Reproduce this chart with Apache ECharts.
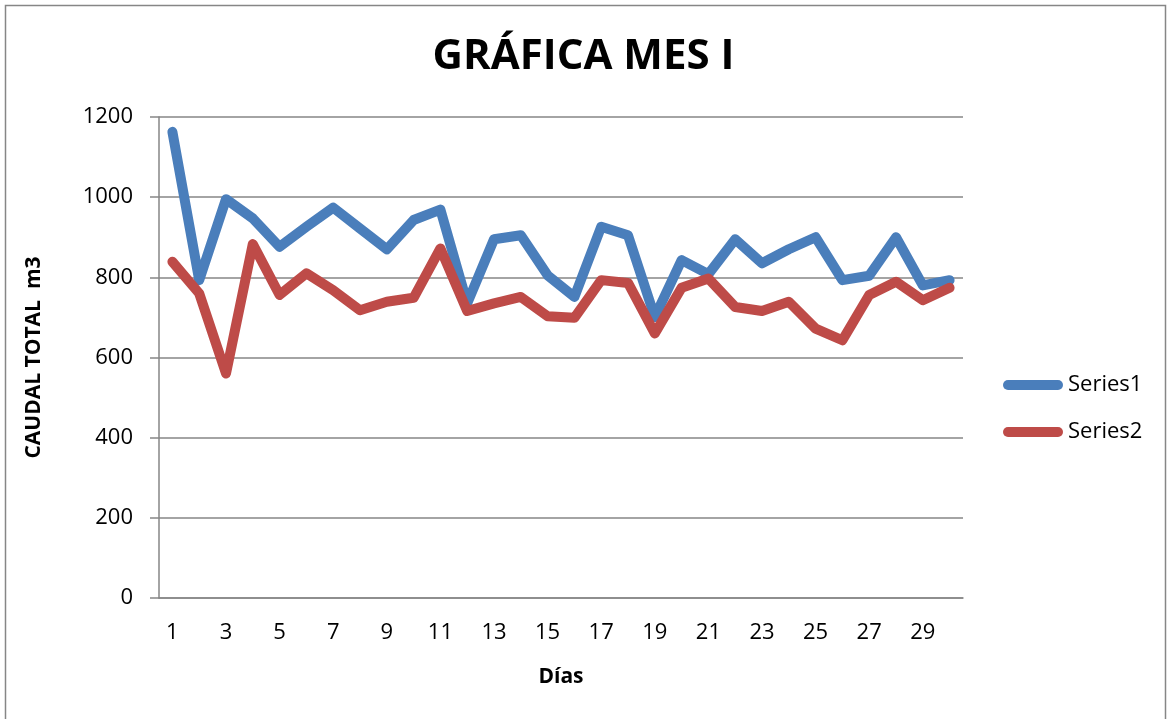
<!DOCTYPE html>
<html>
<head>
<meta charset="utf-8">
<script src="https://cdn.jsdelivr.net/npm/echarts@6/dist/echarts.min.js"></script>
<style>
html,body{margin:0;padding:0;background:#fff;}
#chart{width:1167px;height:719px;}
</style>
</head>
<body>
<div id="chart"></div>
<script>
var dias = [];
for (var d = 1; d <= 30; d++) { dias.push(String(d)); }

var series1 = [1163, 793, 995, 947, 876, 926, 974, 922, 870, 943,
               969, 735, 895, 905, 805, 751, 926, 905, 701, 843,
               808, 895, 835, 870, 900, 793, 804, 900, 780, 793];
var series2 = [839, 760, 560, 883, 756, 810, 768, 718, 739, 749,
               872, 716, 735, 751, 703, 699, 793, 786, 660, 774,
               797, 726, 716, 739, 672, 643, 756, 789, 743, 774];

var nombres = ['Series1', 'Series2'];
var colores = ['#4a7ebb', '#be4b48'];

var fuente = '"Open Sans", "Noto Sans", sans-serif';

var option = {
    animation: false,
    color: colores,
    textStyle: { fontFamily: fuente },
    title: {
        text: 'GRÁFICA MES I',
        left: 'center',
        top: 36,
        padding: 0,
        textStyle: { fontFamily: fuente, fontSize: 42, fontWeight: 'bold', color: '#000' }
    },
    //marco exterior
    graphic: [{
        type: 'rect',
        shape: { x: 5.5, y: 5.5, width: 1160, height: 730 },
        style: { fill: 'none', stroke: '#868686', lineWidth: 1.5 },
        silent: true
    }],
    legend: {
        orient: 'vertical',
        left: 998,
        top: 367,
        itemWidth: 60,
        itemHeight: 10,
        itemGap: 21,
        icon: 'path://M5,0 L55,0 A5,5 0 0 1 55,10 L5,10 A5,5 0 0 1 5,0 Z',
        textStyle: { fontFamily: fuente, fontSize: 22, color: '#000', lineHeight: 26 },
        data: nombres
    },
    grid: {
        left: 159,
        right: 204,
        top: 117,
        bottom: 121
    },
    xAxis: {
        type: 'category',
        data: dias,
        boundaryGap: true,
        name: 'Días',
        nameLocation: 'middle',
        nameGap: 69,
        nameTextStyle: { fontFamily: fuente, fontSize: 21, fontWeight: 'bold', color: '#000' },
        axisLine: { lineStyle: { color: '#868686', width: 1.5 } },
        axisTick: { show: false },
        axisLabel: { interval: 1, margin: 24, fontFamily: fuente, fontSize: 22, color: '#000' },
        splitLine: { show: false }
    },
    yAxis: {
        type: 'value',
        min: 0,
        max: 1200,
        interval: 200,
        name: 'CAUDAL TOTAL  m3',
        nameLocation: 'middle',
        nameGap: 114,
        nameRotate: 90,
        nameTextStyle: { fontFamily: fuente, fontSize: 21, fontWeight: 'bold', color: '#000' },
        axisLine: { show: true, lineStyle: { color: '#868686', width: 1.5 } },
        axisTick: { show: true, inside: false, length: 9, lineStyle: { color: '#868686', width: 1.5 } },
        axisLabel: {
            margin: 26, fontFamily: fuente, fontSize: 22, color: '#000',
            formatter: function (v) { return String(v); }
        },
        splitLine: { lineStyle: { color: '#868686', width: 1.5 } }
    },
    series: [{
        name: nombres[0],
        type: 'line',
        data: series1,
        symbol: 'none',
        lineStyle: { width: 10, color: colores[0], cap: 'round', join: 'round' }
    }, {
        name: nombres[1],
        type: 'line',
        data: series2,
        symbol: 'none',
        lineStyle: { width: 10, color: colores[1], cap: 'round', join: 'round' }
    }]
};

var grafica = echarts.init(document.getElementById('chart'));
grafica.setOption(option);
</script>
</body>
</html>
